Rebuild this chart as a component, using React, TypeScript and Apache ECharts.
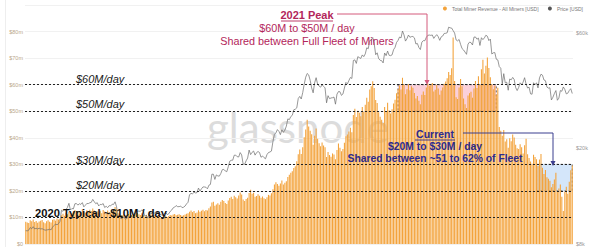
import React, { useEffect, useRef } from "react";
import * as echarts from "echarts";

// Daily total miner revenue, $M (3 Jul 2020 -> 5 Jul 2021)
const revJul20 = [8.4, 8.1, 7.9, 8.9, 8.6, 9.2, 8.3, 8.7, 8.0, 8.5, 8.8, 9.0, 8.2, 7.8, 8.6, 8.9, 8.4, 8.1, 9.1, 9.3, 8.8, 9.6, 9.2, 9.5, 10.8, 11.4, 10.6, 11.7, 11.2];
const revAug20 = [12.1, 11.0, 11.6, 12.3, 12.8, 11.9, 12.4, 11.5, 12.0, 13.1, 12.2, 11.8, 12.7, 12.1, 12.9, 12.4, 13.4, 12.6, 11.7, 12.3, 11.9, 12.5, 11.6, 12.8, 12.2, 11.4, 12.6, 12.0, 11.8, 12.4, 12.9];
const revSep20 = [13.9, 13.2, 11.6, 11.4, 10.9, 10.7, 11.2, 10.5, 10.8, 11.3, 10.6, 10.9, 10.2, 11.0, 11.5, 11.8, 11.2, 10.9, 11.6, 10.8, 10.3, 10.9, 10.1, 10.6, 11.2, 10.4, 10.8, 11.1, 10.5, 10.9];
const revOct20 = [10.4, 10.1, 9.8, 10.3, 10.6, 10.2, 10.5, 10.9, 10.7, 11.1, 11.3, 10.8, 11.0, 11.2, 10.9, 10.6, 10.8, 11.1, 11.4, 11.6, 12.1, 12.6, 12.0, 12.4, 11.6, 11.9, 12.7, 12.1, 12.5, 12.9, 12.3];
const revNov20 = [12.8, 12.6, 13.5, 14.1, 15.6, 15.9, 14.4, 14.9, 15.3, 14.8, 15.9, 16.6, 16.2, 15.4, 15.1, 16.4, 17.3, 17.8, 16.9, 18.2, 17.6, 17.1, 18.3, 19.4, 18.6, 16.8, 16.2, 16.9, 17.4, 19.2];
const revDec20 = [20.4, 18.9, 19.3, 17.8, 18.1, 18.7, 18.2, 17.4, 17.9, 17.2, 16.9, 17.6, 18.5, 18.3, 19.1, 20.6, 22.4, 23.3, 22.6, 21.9, 22.8, 23.9, 22.4, 23.1, 23.6, 25.2, 26.1, 26.8, 27.4, 28.6, 29.3];
const revJan21 = [31.2, 33.8, 35.6, 33.9, 36.4, 40.2, 43.1, 46.8, 44.2, 42.6, 41.3, 37.4, 40.8, 43.5, 39.6, 37.9, 36.8, 38.2, 37.1, 36.4, 32.8, 34.6, 33.5, 32.9, 34.1, 33.7, 31.9, 35.4, 37.8, 36.2, 34.9];
const revFeb21 = [35.8, 38.1, 40.6, 41.2, 42.4, 43.8, 42.1, 48.6, 50.9, 47.8, 50.2, 49.4, 48.1, 51.6, 49.8, 52.4, 55.1, 53.6, 58.2, 59.4, 61.3, 58.7, 54.2, 53.1, 49.6, 47.9, 46.8, 45.6];
const revMar21 = [51.6, 49.8, 53.2, 50.4, 49.1, 50.7, 52.9, 54.3, 56.8, 58.4, 59.7, 58.2, 62.6, 60.1, 56.4, 58.3, 60.2, 57.9, 59.4, 58.8, 56.9, 54.8, 55.7, 53.9, 52.6, 56.2, 57.4, 56.1, 58.9, 60.4, 59.6];
const revApr21 = [59.8, 60.6, 57.4, 58.1, 59.9, 58.6, 56.2, 57.8, 58.9, 60.3, 61.2, 62.4, 64.8, 63.6, 66.2, 77.8, 61.4, 55.3, 54.6, 58.9, 62.1, 59.4, 54.8, 52.6, 51.2, 55.9, 56.8, 57.3, 55.1, 58.6];
const revMay21 = [61.4, 58.7, 63.2, 60.1, 65.8, 69.4, 64.2, 67.1, 70.2, 66.3, 62.8, 60.2, 58.3, 59.6, 56.2, 58.8, 44.1, 42.6, 40.8, 42.9, 38.6, 39.4, 36.2, 39.8, 38.7, 41.2, 40.1, 37.4, 36.1, 35.8, 37.6];
const revJun21 = [36.4, 34.1, 37.2, 39.6, 33.8, 32.4, 31.1, 30.2, 33.6, 32.8, 31.9, 29.4, 31.8, 33.9, 28.7, 26.4, 27.9, 25.1, 24.6, 23.8, 21.4, 22.6, 24.3, 26.8, 19.6, 20.9, 22.4, 17.8, 12.4, 19.7];
const revJul21 = [21.6, 18.9, 23.4, 27.8, 29.6];

// Daily BTC price, $k
const pxJul20 = [9.09, 9.07, 9.13, 9.37, 9.25, 9.44, 9.24, 9.29, 9.24, 9.30, 9.24, 9.26, 9.19, 9.13, 9.15, 9.17, 9.21, 9.16, 9.39, 9.54, 9.68, 9.61, 9.71, 9.93, 11.05, 10.93, 11.10, 11.11, 11.35];
const pxAug20 = [11.80, 11.07, 11.23, 11.19, 11.75, 11.78, 11.60, 11.75, 11.68, 11.88, 11.41, 11.58, 11.78, 11.77, 11.86, 11.91, 12.25, 11.99, 11.76, 11.87, 11.51, 11.68, 11.66, 11.77, 11.34, 11.47, 11.32, 11.54, 11.51, 11.70, 11.68];
const pxSep20 = [11.97, 11.41, 10.25, 10.51, 10.17, 10.26, 10.37, 10.13, 10.24, 10.35, 10.39, 10.44, 10.33, 10.68, 10.79, 10.95, 10.95, 10.93, 11.09, 10.92, 10.42, 10.54, 10.24, 10.74, 10.69, 10.73, 10.77, 10.71, 10.84, 10.78];
const pxOct20 = [10.62, 10.57, 10.55, 10.67, 10.79, 10.60, 10.67, 10.92, 11.06, 11.30, 11.38, 11.55, 11.43, 11.43, 11.50, 11.32, 11.37, 11.50, 11.74, 11.92, 12.82, 12.97, 12.93, 13.11, 13.03, 13.07, 13.65, 13.27, 13.56, 13.80, 13.80];
const pxNov20 = [13.76, 13.55, 14.03, 14.13, 15.59, 15.58, 14.83, 15.48, 15.33, 15.30, 15.70, 16.28, 16.32, 16.07, 15.96, 16.73, 17.65, 17.80, 17.82, 18.68, 18.70, 18.42, 18.37, 19.16, 18.73, 17.15, 17.14, 17.72, 18.18, 19.63];
const pxDec20 = [18.80, 19.21, 19.45, 18.70, 19.15, 19.36, 19.17, 18.32, 18.55, 18.26, 18.06, 18.80, 19.17, 19.27, 19.44, 21.31, 22.81, 23.14, 23.87, 23.48, 22.75, 23.82, 23.24, 23.74, 24.66, 26.44, 26.25, 27.04, 27.36, 28.84, 29.00];
const pxJan21 = [29.37, 32.13, 32.78, 31.97, 33.99, 36.82, 39.37, 40.80, 40.25, 38.24, 35.54, 33.92, 37.32, 39.19, 36.82, 36.18, 35.79, 36.63, 36.07, 35.55, 30.83, 33.00, 32.08, 32.29, 32.37, 32.57, 30.43, 33.47, 34.32, 34.27, 33.11];
const pxFeb21 = [33.54, 35.51, 37.47, 36.93, 38.14, 39.27, 38.90, 46.20, 46.48, 44.92, 47.91, 47.50, 47.11, 48.72, 47.94, 49.20, 52.15, 51.68, 55.89, 56.10, 57.54, 54.21, 48.82, 49.71, 47.06, 46.28, 46.11, 45.14];
const pxMar21 = [49.63, 48.38, 50.54, 48.56, 48.38, 48.75, 51.21, 52.38, 54.88, 55.96, 57.80, 57.33, 61.24, 59.01, 55.61, 56.90, 58.91, 57.65, 58.03, 58.10, 57.35, 54.08, 54.34, 52.30, 51.29, 55.03, 55.85, 55.78, 57.63, 58.73, 58.92];
const pxApr21 = [58.72, 58.97, 57.06, 58.20, 59.13, 57.99, 56.01, 57.91, 58.35, 59.82, 59.89, 60.20, 63.50, 63.11, 62.98, 61.46, 60.05, 56.22, 55.72, 56.47, 53.91, 51.76, 51.09, 50.05, 49.00, 54.02, 55.03, 54.82, 53.56, 57.75];
const pxMay21 = [57.83, 56.63, 57.21, 53.33, 57.42, 56.40, 57.36, 58.80, 58.23, 55.86, 56.70, 49.15, 49.72, 49.82, 46.76, 46.45, 43.54, 42.91, 36.96, 40.73, 37.30, 37.54, 34.77, 38.71, 38.40, 39.29, 38.55, 35.66, 34.66, 35.68, 37.33];
const pxJun21 = [36.69, 37.57, 39.19, 36.87, 35.52, 35.80, 33.59, 33.47, 37.35, 36.70, 37.33, 35.55, 39.10, 40.52, 40.14, 38.35, 38.09, 35.82, 35.48, 35.60, 31.68, 32.51, 33.68, 34.66, 31.59, 32.24, 34.65, 34.43, 35.87, 35.04];
const pxJul21 = [33.57, 33.80, 34.67, 35.29, 33.69];

const leftTicks = [0, 10, 20, 30, 40, 50, 60, 70, 80];
const rightTicksUsd = [8000, 20000, 60000];
const refLines = [60, 50, 30, 20, 10];
const peakZone = { from: 250, to: 316, low: 50, high: 60 };
const currentZone = { from: 343, to: 367, low: 20, high: 30 };

const revenue = [
  ...revJul20, ...revAug20, ...revSep20, ...revOct20, ...revNov20, ...revDec20,
  ...revJan21, ...revFeb21, ...revMar21, ...revApr21, ...revMay21, ...revJun21, ...revJul21,
];
const priceK = [
  ...pxJul20, ...pxAug20, ...pxSep20, ...pxOct20, ...pxNov20, ...pxDec20,
  ...pxJan21, ...pxFeb21, ...pxMar21, ...pxApr21, ...pxMay21, ...pxJun21, ...pxJul21,
];

const START = Date.UTC(2020, 6, 3);
const dates = revenue.map((_, i) => new Date(START + i * 86400000).toISOString().slice(0, 10));

const FONT = "'Liberation Sans', Arial, sans-serif";
const PEAK = "#b3265a";
const PEAK_LINE = "#d45a7c";
const NAVY = "#2c2a8e";

export default function App() {
  const ref = useRef<HTMLDivElement>(null);
  useEffect(() => {
    if (!ref.current) return;
    const chart = echarts.init(ref.current, undefined, { renderer: "svg" });
    const logMin = Math.log10(8000);
    const logMax = Math.log10(78500);
    const option: any = {
      animation: false,
      backgroundColor: "#ffffff",
      textStyle: { fontFamily: FONT },
      grid: { left: 25, right: 27, top: 5, bottom: 3, containLabel: false },
      legend: {
        data: ["Total Miner Revenue - All Miners [USD]", "Price [USD]"],
        right: 12,
        top: 1,
        icon: "circle",
        itemWidth: 4,
        itemHeight: 4,
        itemGap: 9,
        itemTextGap: 3,
        textStyle: { fontSize: 5, color: "#777", fontFamily: FONT },
      },
      xAxis: {
        type: "category",
        data: dates,
        axisLabel: { show: false },
        axisTick: { show: false },
        axisLine: { show: false },
        boundaryGap: true,
      },
      yAxis: [
        {
          type: "value",
          min: 0,
          max: 90,
          interval: 10,
          axisLine: { show: false },
          axisTick: { show: false },
          axisLabel: {
            fontSize: 5.5,
            color: "#b9a78c",
            margin: 2,
            formatter: (v: number) => (leftTicks.includes(v) ? (v === 0 ? "$0" : `$${v}m`) : ""),
          },
          splitLine: { lineStyle: { color: "#f1f1f1", width: 1 } },
        },
        {
          type: "value",
          min: logMin,
          max: logMax,
          axisLine: { show: false },
          axisTick: { show: false },
          splitLine: { show: false },
          axisLabel: {
            fontSize: 5.5,
            color: "#999",
            margin: 3,
            customValues: rightTicksUsd.map((v) => Math.log10(v)),
            formatter: (v: number) => `$${Math.round(Math.pow(10, v) / 1000)}k`,
          },
        },
      ],
      series: [
        {
          name: "Total Miner Revenue - All Miners [USD]",
          type: "bar",
          data: revenue,
          yAxisIndex: 0,
          barCategoryGap: "28%",
          itemStyle: { color: "#f3a33c" },
          z: 2,
          silent: true,
        },
        {
          name: "Price [USD]",
          type: "line",
          data: priceK.map((p) => Math.log10(p * 1000)),
          yAxisIndex: 1,
          showSymbol: false,
          symbol: "none",
          lineStyle: { color: "#6b6b6b", width: 0.7 },
          itemStyle: { color: "#555" },
          z: 3,
          silent: true,
        },
        {
          name: "annotations",
          type: "line",
          data: [],
          yAxisIndex: 0,
          z: 6,
          silent: true,
          markLine: {
            silent: true,
            symbol: ["none", "none"],
            label: { show: false },
            lineStyle: { color: "#222", type: [2, 2], width: 1 },
            data: refLines.map((v) => ({ yAxis: v })),
          },
          markArea: {
            silent: true,
            data: [
              [
                {
                  xAxis: peakZone.from,
                  yAxis: peakZone.high,
                  itemStyle: { color: "rgba(240,110,140,0.32)", borderColor: "#444", borderWidth: 0.8, borderType: [2, 2] },
                },
                { xAxis: peakZone.to, yAxis: peakZone.low },
              ],
              [
                {
                  xAxis: currentZone.from,
                  yAxis: currentZone.high,
                  itemStyle: { color: "rgba(160,200,245,0.45)", borderColor: "#444", borderWidth: 0.8, borderType: [2, 2] },
                },
                { xAxis: currentZone.to, yAxis: currentZone.low },
              ],
            ],
          },
        },
      ],
      graphic: [
        {
          type: "text",
          z: 0,
          left: 207,
          top: 106,
          style: { text: "glassnode", fontSize: 42, fontFamily: "Lato, 'Noto Sans', sans-serif", fontWeight: "normal", fill: "#dcdcdc" },
        },
        { type: "line", z: 0, shape: { x1: 5.5, y1: 0, x2: 5.5, y2: 247 }, style: { stroke: "#eeeeee", lineWidth: 1 } },
        // dashed line labels
        ...[
          ["$60M/day", 79],
          ["$50M/day", 104],
          ["$30M/day", 160],
          ["$20M/day", 185],
        ].map(([t, y]) => ({
          type: "text",
          z: 100,
          x: 76,
          y: y as number,
          style: { text: t as string, fontSize: 11, fontStyle: "italic", fontFamily: FONT, fill: "#1a1a1a", verticalAlign: "middle" },
        })),
        {
          type: "text",
          z: 100,
          x: 35,
          y: 213,
          style: { text: "2020 Typical ~$10M / day", fontSize: 11.2, fontWeight: "bold", fontFamily: FONT, fill: "#111", verticalAlign: "middle", lineHeight: 11 },
        },
        // 2021 peak annotation
        {
          type: "text",
          z: 100,
          x: 307,
          y: 15,
          style: { text: "2021 Peak", fontSize: 11, fontWeight: "bold", fontFamily: FONT, fill: PEAK, align: "center", verticalAlign: "middle", lineHeight: 11 },
        },
        { type: "line", z: 100, shape: { x1: 281, y1: 21, x2: 333, y2: 21 }, style: { stroke: PEAK, lineWidth: 0.9 } },
        {
          type: "text",
          z: 100,
          x: 307,
          y: 28,
          style: { text: "$60M to $50M / day", fontSize: 10.8, fontFamily: FONT, fill: PEAK, align: "center", verticalAlign: "middle", lineHeight: 11 },
        },
        {
          type: "text",
          z: 100,
          x: 307,
          y: 41,
          style: { text: "Shared between Full Fleet of Miners", fontSize: 10.8, fontFamily: FONT, fill: PEAK, align: "center", verticalAlign: "middle", lineHeight: 11 },
        },
        { type: "polyline", z: 100, shape: { points: [[337, 14], [427, 14], [427, 82]] }, style: { stroke: PEAK_LINE, lineWidth: 1, fill: "none" } },
        { type: "polygon", z: 100, shape: { points: [[424.5, 80], [429.5, 80], [427, 85]] }, style: { fill: PEAK_LINE } },
        // current annotation
        {
          type: "text",
          z: 100,
          x: 435,
          y: 134,
          style: { text: "Current", fontSize: 10.5, fontWeight: "bold", fontFamily: FONT, fill: NAVY, align: "center", verticalAlign: "middle", lineHeight: 10 },
        },
        { type: "line", z: 100, shape: { x1: 415, y1: 140, x2: 455, y2: 140 }, style: { stroke: NAVY, lineWidth: 0.9 } },
        {
          type: "text",
          z: 100,
          x: 435,
          y: 146,
          style: { text: "$20M to $30M / day", fontSize: 10.4, fontWeight: "bold", fontFamily: FONT, fill: NAVY, align: "center", verticalAlign: "middle", lineHeight: 10 },
        },
        {
          type: "text",
          z: 100,
          x: 435,
          y: 158,
          style: { text: "Shared between ~51 to 62% of Fleet", fontSize: 10.3, fontWeight: "bold", fontFamily: FONT, fill: NAVY, align: "center", verticalAlign: "middle", lineHeight: 10 },
        },
        { type: "polyline", z: 100, shape: { points: [[463, 133], [553, 133], [553, 162]] }, style: { stroke: "#3b3f8f", lineWidth: 1, fill: "none" } },
        { type: "polygon", z: 100, shape: { points: [[550.5, 161], [555.5, 161], [553, 166]] }, style: { fill: "#3b3f8f" } },
      ],
    };
    chart.setOption(option);
    return () => chart.dispose();
  }, []);
  return <div ref={ref} style={{ position: "fixed", left: 0, top: 0, width: 600, height: 247 }} />;
}
